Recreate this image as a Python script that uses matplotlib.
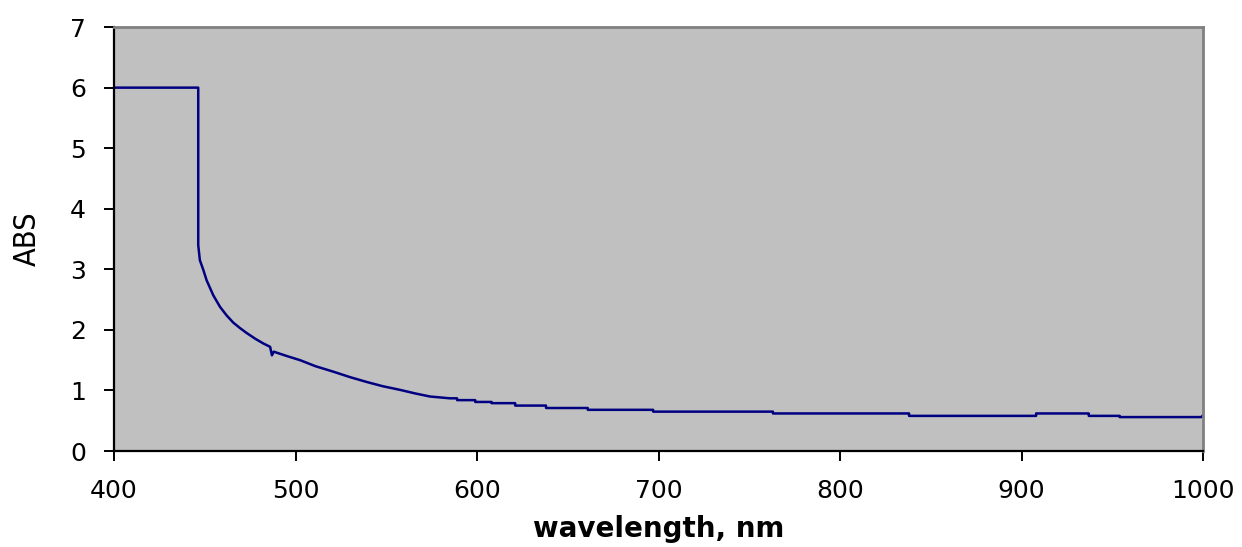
import numpy as np
import matplotlib
matplotlib.use('Agg')
import matplotlib.pyplot as plt

# absorbance spectrum (flat parts kept as steps)
wavelength = [400, 446.4, 446.4, 447.3, 449.2, 451, 454.7, 458.4, 462, 465.7,
              469.4, 473, 478, 482, 486, 487, 488, 495, 502.5, 511,
              520.8, 530, 539.2, 548, 557.5, 566, 574, 585,
              589, 589, 599, 599, 608, 608, 621, 621, 638, 638,
              661, 661, 697, 697, 763, 763, 838, 838, 908, 908,
              937, 937, 954, 954, 999, 1000]
absorbance = [6.00, 6.00, 3.40, 3.15, 2.99, 2.82, 2.57, 2.38, 2.24, 2.12,
              2.03, 1.95, 1.85, 1.78, 1.72, 1.58, 1.64, 1.57, 1.50, 1.40,
              1.31, 1.22, 1.14, 1.07, 1.01, 0.95, 0.90, 0.87,
              0.87, 0.84, 0.84, 0.81, 0.81, 0.79, 0.79, 0.75, 0.75, 0.71,
              0.71, 0.68, 0.68, 0.65, 0.65, 0.62, 0.62, 0.58, 0.58, 0.62,
              0.62, 0.58, 0.58, 0.56, 0.56, 0.59]

x_ticks = [400, 500, 600, 700, 800, 900, 1000]
y_ticks = [0, 1, 2, 3, 4, 5, 6, 7]


def main():
    fig = plt.figure(figsize=(12.42, 5.47), dpi=100)
    ax = fig.add_axes([0.0918, 0.1755, 0.8769, 0.775])
    ax.set_facecolor('#c0c0c0')

    ax.plot(wavelength, absorbance, color='#000080', lw=1.8)

    ax.set_xlim(400, 1000)
    ax.set_ylim(0, 7)
    ax.set_xticks(x_ticks)
    ax.set_yticks(y_ticks)
    ax.tick_params(direction='out', length=7, width=1.4, colors='black',
                   labelsize=18, pad=13)

    for side in ['left', 'bottom']:
        ax.spines[side].set_color('black')
        ax.spines[side].set_linewidth(1.6)
    for side in ['top', 'right']:
        ax.spines[side].set_color('#808080')
        ax.spines[side].set_linewidth(2)

    ax.set_xlabel('wavelength, nm', fontsize=20, fontweight='bold', labelpad=9)
    ax.set_ylabel('ABS', fontsize=22, fontstretch='condensed')
    ax.yaxis.set_label_coords(-0.066, 0.5)

    fig.savefig('out.png', dpi=100)


if __name__ == "__main__":
    main()
